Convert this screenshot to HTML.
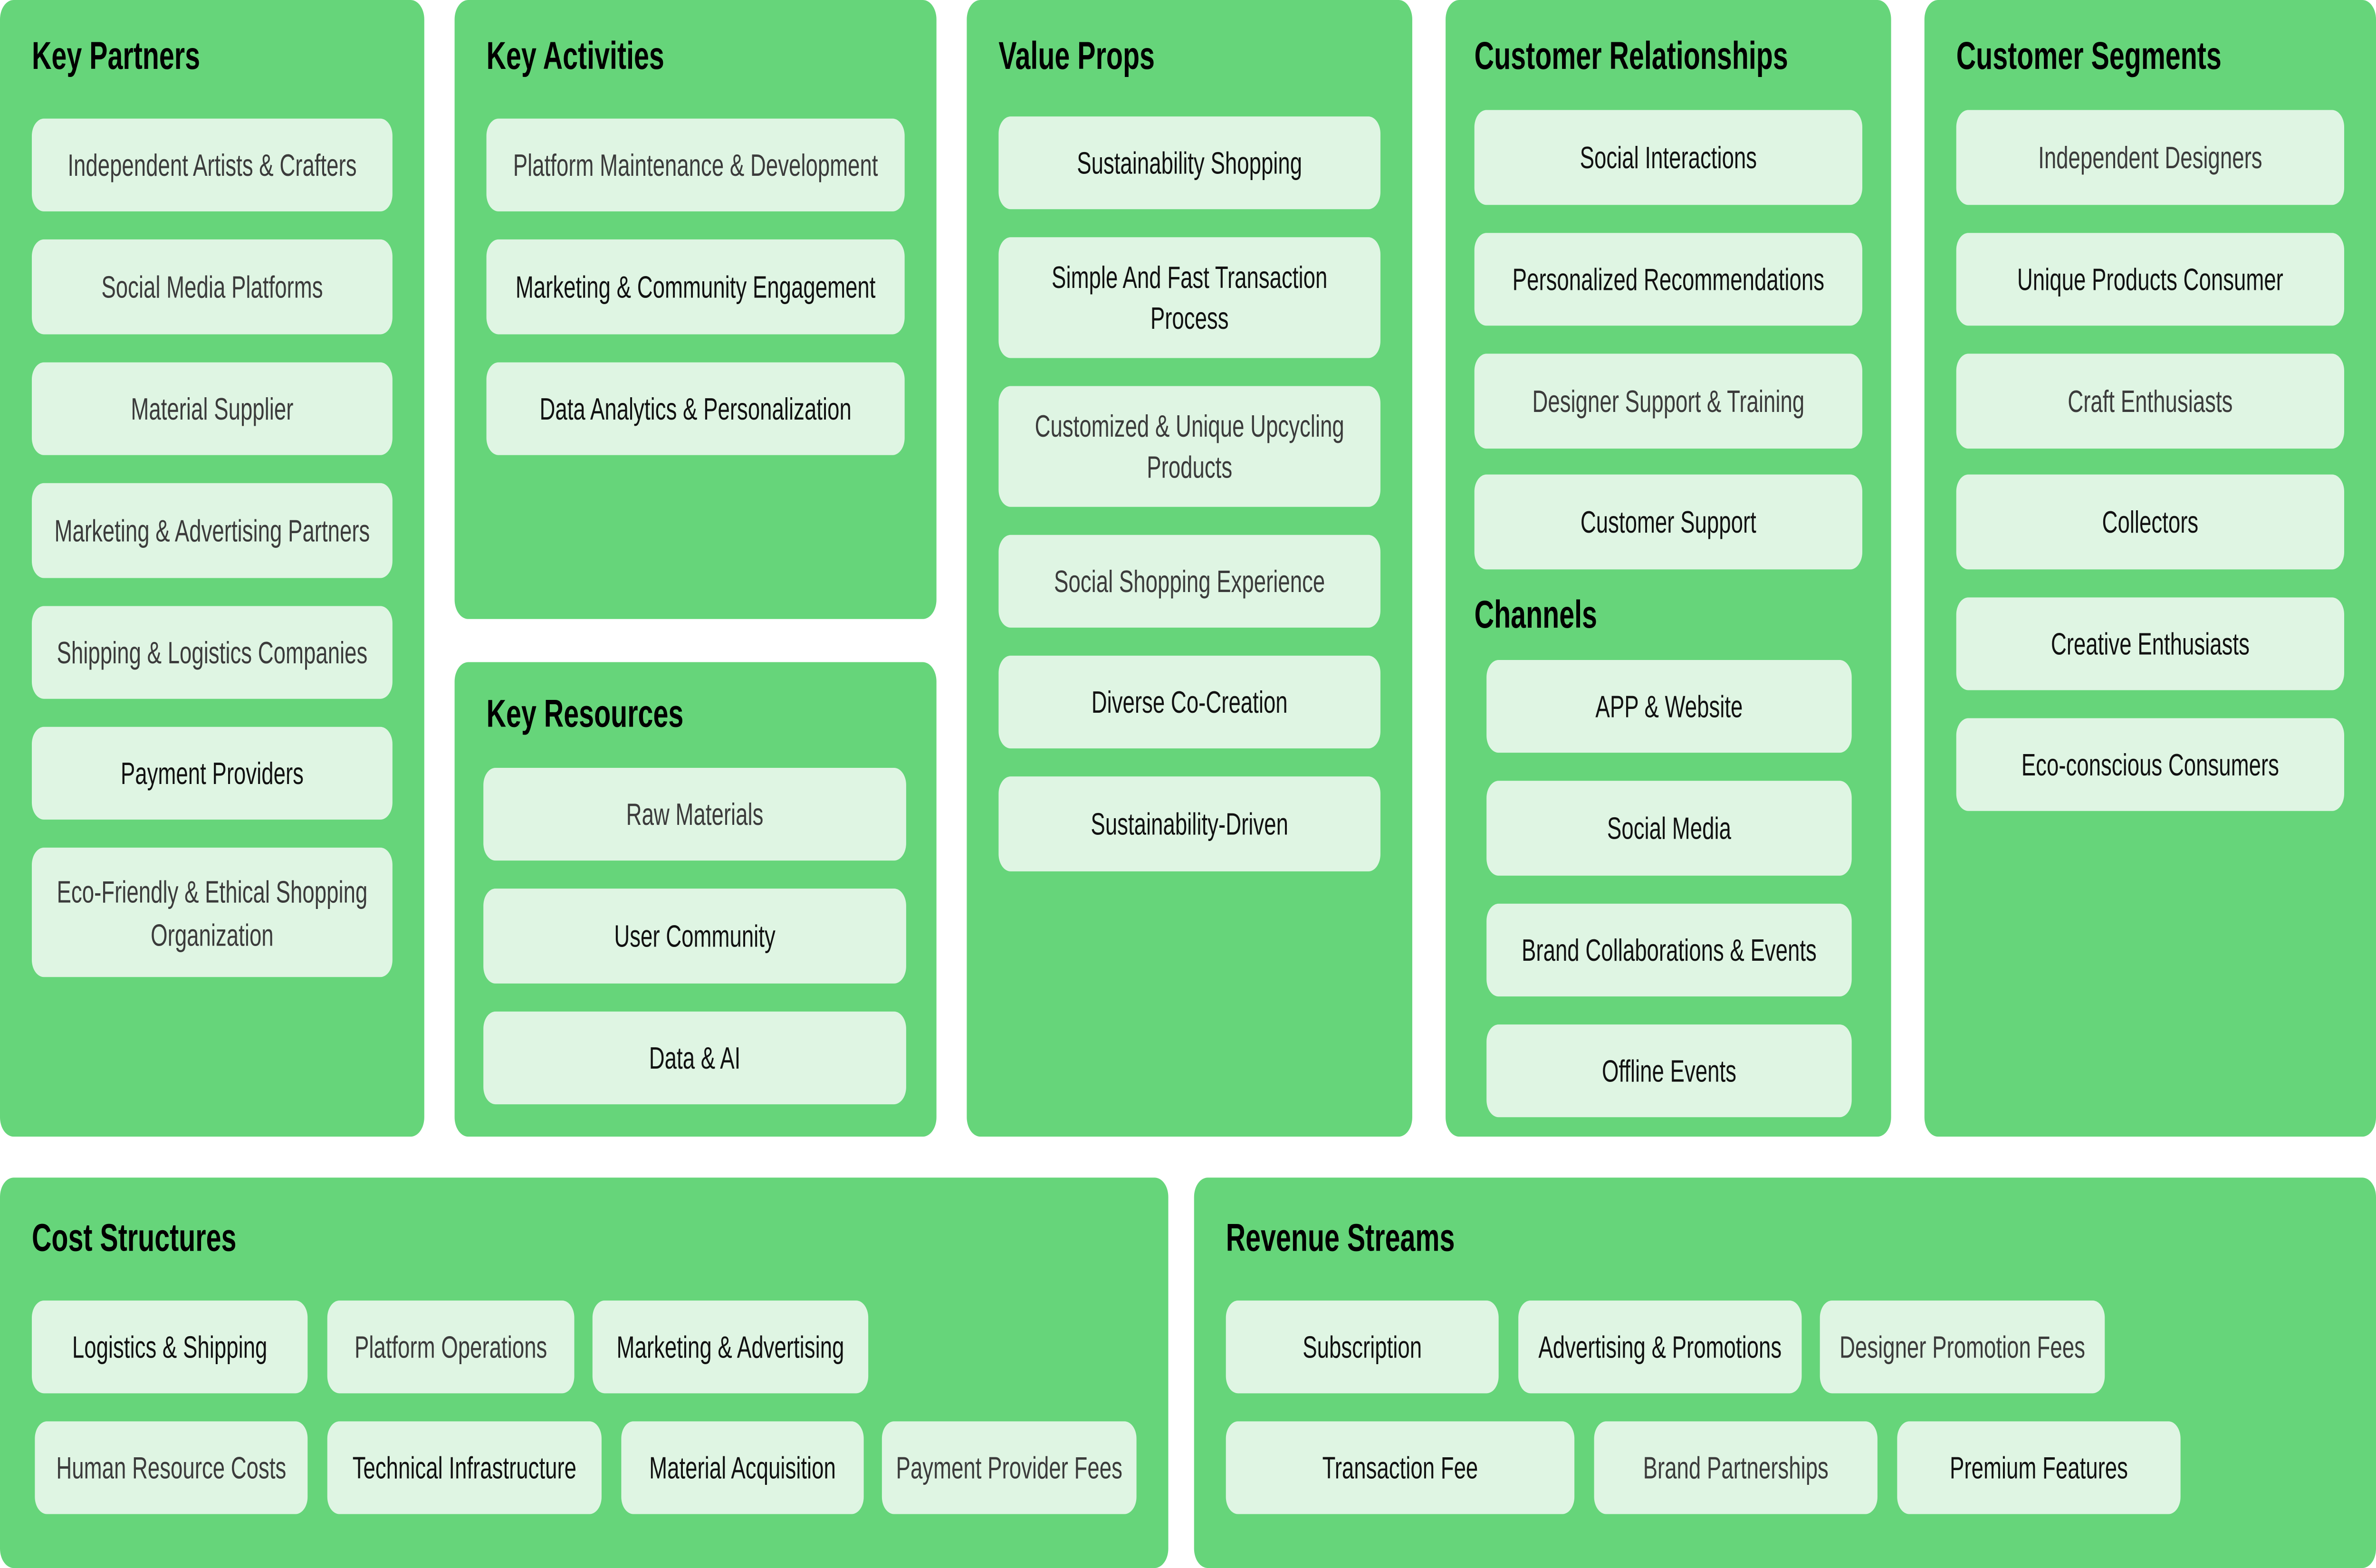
<!DOCTYPE html>
<html><head><meta charset="utf-8">
<style>
html,body{margin:0;padding:0;background:#fff;overflow:hidden}
svg{display:block;width:100vw;height:100vh}
.p{fill:#66d57a}
.c{fill:#dff5e3}
text{font-family:"Liberation Sans",sans-serif;font-size:14.3px;fill:#111;text-anchor:middle}
text.g{fill:#3b3b3b}
text.t{font-weight:bold;font-size:18px;fill:#000;text-anchor:start}
</style></head><body>
<svg viewBox="0 0 1568 727" preserveAspectRatio="none" xmlns="http://www.w3.org/2000/svg">
<rect class="p" x="0" y="0" width="280" height="527" rx="9"/>
<rect class="p" x="300" y="0" width="318" height="287" rx="9"/>
<rect class="p" x="300" y="307" width="318" height="220" rx="9"/>
<rect class="p" x="638" y="0" width="294" height="527" rx="9"/>
<rect class="p" x="954" y="0" width="294" height="527" rx="9"/>
<rect class="p" x="1270" y="0" width="298" height="527" rx="9"/>
<rect class="p" x="0" y="546" width="771" height="181" rx="9"/>
<rect class="p" x="788" y="546" width="780" height="181" rx="9"/>

<text class="t" x="21" y="32">Key Partners</text>
<text class="t" x="321" y="32">Key Activities</text>
<text class="t" x="321" y="337">Key Resources</text>
<text class="t" x="659" y="32">Value Props</text>
<text class="t" x="973" y="32">Customer Relationships</text>
<text class="t" x="973" y="291">Channels</text>
<text class="t" x="1291" y="32">Customer Segments</text>
<text class="t" x="21" y="580">Cost Structures</text>
<text class="t" x="809" y="580">Revenue Streams</text>

<!-- Key Partners -->
<rect class="c" x="21" y="55" width="238" height="43" rx="8"/><text class="g" x="140" y="81.5">Independent Artists &amp; Crafters</text>
<rect class="c" x="21" y="111" width="238" height="44" rx="8"/><text class="g" x="140" y="138">Social Media Platforms</text>
<rect class="c" x="21" y="168" width="238" height="43" rx="8"/><text class="g" x="140" y="194.5">Material Supplier</text>
<rect class="c" x="21" y="224" width="238" height="44" rx="8"/><text class="g" x="140" y="251">Marketing &amp; Advertising Partners</text>
<rect class="c" x="21" y="281" width="238" height="43" rx="8"/><text class="g" x="140" y="307.5">Shipping &amp; Logistics Companies</text>
<rect class="c" x="21" y="337" width="238" height="43" rx="8"/><text x="140" y="363.5">Payment Providers</text>
<rect class="c" x="21" y="393" width="238" height="60" rx="8"/><text class="g" x="140" y="418.5">Eco-Friendly &amp; Ethical Shopping</text><text class="g" x="140" y="438.5">Organization</text>

<!-- Key Activities -->
<rect class="c" x="321" y="55" width="276" height="43" rx="8"/><text class="g" x="459" y="81.5">Platform Maintenance &amp; Development</text>
<rect class="c" x="321" y="111" width="276" height="44" rx="8"/><text x="459" y="138">Marketing &amp; Community Engagement</text>
<rect class="c" x="321" y="168" width="276" height="43" rx="8"/><text x="459" y="194.5">Data Analytics &amp; Personalization</text>

<!-- Key Resources -->
<rect class="c" x="319" y="356" width="279" height="43" rx="8"/><text class="g" x="458.5" y="382.5">Raw Materials</text>
<rect class="c" x="319" y="412" width="279" height="44" rx="8"/><text x="458.5" y="439">User Community</text>
<rect class="c" x="319" y="469" width="279" height="43" rx="8"/><text x="458.5" y="495.5">Data &amp; AI</text>

<!-- Value Props -->
<rect class="c" x="659" y="54" width="252" height="43" rx="8"/><text x="785" y="80.5">Sustainability Shopping</text>
<rect class="c" x="659" y="110" width="252" height="56" rx="8"/><text x="785" y="133.5">Simple And Fast Transaction</text><text x="785" y="152.5">Process</text>
<rect class="c" x="659" y="179" width="252" height="56" rx="8"/><text class="g" x="785" y="202.5">Customized &amp; Unique Upcycling</text><text class="g" x="785" y="221.5">Products</text>
<rect class="c" x="659" y="248" width="252" height="43" rx="8"/><text class="g" x="785" y="274.5">Social Shopping Experience</text>
<rect class="c" x="659" y="304" width="252" height="43" rx="8"/><text x="785" y="330.5">Diverse Co-Creation</text>
<rect class="c" x="659" y="360" width="252" height="44" rx="8"/><text x="785" y="387">Sustainability-Driven</text>

<!-- Customer Relationships -->
<rect class="c" x="973" y="51" width="256" height="44" rx="8"/><text x="1101" y="78">Social Interactions</text>
<rect class="c" x="973" y="108" width="256" height="43" rx="8"/><text x="1101" y="134.5">Personalized Recommendations</text>
<rect class="c" x="973" y="164" width="256" height="44" rx="8"/><text class="g" x="1101" y="191">Designer Support &amp; Training</text>
<rect class="c" x="973" y="220" width="256" height="44" rx="8"/><text x="1101" y="247">Customer Support</text>
<rect class="c" x="981" y="306" width="241" height="43" rx="8"/><text x="1101.5" y="332.5">APP &amp; Website</text>
<rect class="c" x="981" y="362" width="241" height="44" rx="8"/><text x="1101.5" y="389">Social Media</text>
<rect class="c" x="981" y="419" width="241" height="43" rx="8"/><text x="1101.5" y="445.5">Brand Collaborations &amp; Events</text>
<rect class="c" x="981" y="475" width="241" height="43" rx="8"/><text x="1101.5" y="501.5">Offline Events</text>

<!-- Customer Segments -->
<rect class="c" x="1291" y="51" width="256" height="44" rx="8"/><text class="g" x="1419" y="78">Independent Designers</text>
<rect class="c" x="1291" y="108" width="256" height="43" rx="8"/><text x="1419" y="134.5">Unique Products Consumer</text>
<rect class="c" x="1291" y="164" width="256" height="44" rx="8"/><text class="g" x="1419" y="191">Craft Enthusiasts</text>
<rect class="c" x="1291" y="220" width="256" height="44" rx="8"/><text x="1419" y="247">Collectors</text>
<rect class="c" x="1291" y="277" width="256" height="43" rx="8"/><text x="1419" y="303.5">Creative Enthusiasts</text>
<rect class="c" x="1291" y="333" width="256" height="43" rx="8"/><text x="1419" y="359.5">Eco-conscious Consumers</text>

<!-- Cost Structures -->
<rect class="c" x="21" y="603" width="182" height="43" rx="8"/><text x="112" y="629.5">Logistics &amp; Shipping</text>
<rect class="c" x="216" y="603" width="163" height="43" rx="8"/><text class="g" x="297.5" y="629.5">Platform Operations</text>
<rect class="c" x="391" y="603" width="182" height="43" rx="8"/><text x="482" y="629.5">Marketing &amp; Advertising</text>
<rect class="c" x="23" y="659" width="180" height="43" rx="8"/><text class="g" x="113" y="685.5">Human Resource Costs</text>
<rect class="c" x="216" y="659" width="181" height="43" rx="8"/><text x="306.5" y="685.5">Technical Infrastructure</text>
<rect class="c" x="410" y="659" width="160" height="43" rx="8"/><text x="490" y="685.5">Material Acquisition</text>
<rect class="c" x="582" y="659" width="168" height="43" rx="8"/><text class="g" x="666" y="685.5">Payment Provider Fees</text>

<!-- Revenue Streams -->
<rect class="c" x="809" y="603" width="180" height="43" rx="8"/><text x="899" y="629.5">Subscription</text>
<rect class="c" x="1002" y="603" width="187" height="43" rx="8"/><text x="1095.5" y="629.5">Advertising &amp; Promotions</text>
<rect class="c" x="1201" y="603" width="188" height="43" rx="8"/><text class="g" x="1295" y="629.5">Designer Promotion Fees</text>
<rect class="c" x="809" y="659" width="230" height="43" rx="8"/><text x="924" y="685.5">Transaction Fee</text>
<rect class="c" x="1052" y="659" width="187" height="43" rx="8"/><text class="g" x="1145.5" y="685.5">Brand Partnerships</text>
<rect class="c" x="1252" y="659" width="187" height="43" rx="8"/><text x="1345.5" y="685.5">Premium Features</text>
</svg>
</body></html>
